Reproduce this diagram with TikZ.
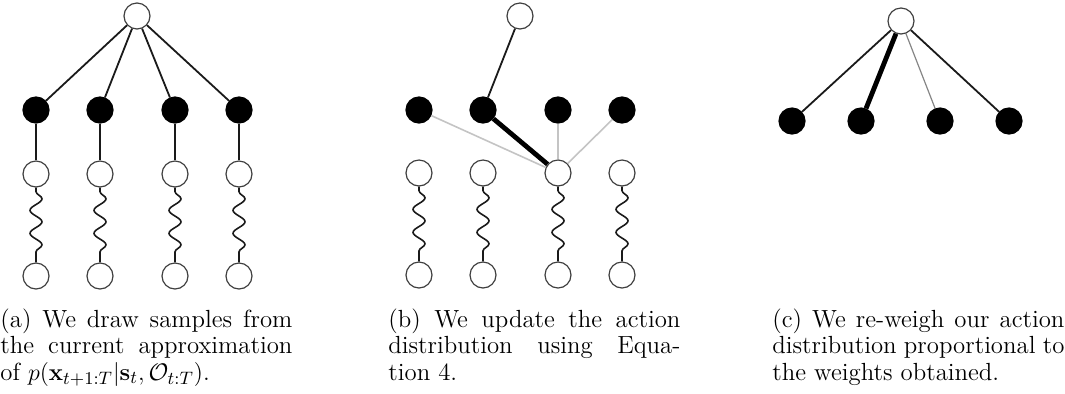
\documentclass[tikz,border=0pt]{standalone}
\usepackage{tikz}
\usepackage{xcolor}
\usetikzlibrary{decorations.pathmorphing}
\definecolor{vdarkgray}{HTML}{1a1a1a}
\definecolor{vlinegray}{HTML}{404040}
\definecolor{vlightgray}{HTML}{c4c4c4}
\definecolor{vmidgray}{HTML}{858585}

\tikzset{
	state/.style={circle, draw=vlinegray, line width=.6pt, fill=white, minimum size=13pt, inner sep=0pt},
	action/.style={state, fill=black, draw=black},
	link/.style={draw=vdarkgray, line width=.9pt},
	weak/.style={draw=vlightgray, line width=.8pt},
	faint/.style={draw=vmidgray, line width=.6pt},
	strong/.style={draw=black, line width=2.4pt},
	rollout/.style={draw=vdarkgray, line width=.8pt, decorate, decoration={snake, segment length=11.5pt, amplitude=3pt, pre length=2pt, post length=2pt}},
	caption/.style={anchor=north west, text width=146pt, align=justify, inner sep=0pt, font=\fontsize{12.4}{13.3}\selectfont}
}

\begin{document}
\begin{tikzpicture}[x=.5pt, y=-.5pt]
		\useasboundingbox (0,0) rectangle (1065,393);
		% (a) sampling
		\node[state] (aroot) at (137,16) {};
		\foreach \i/\x in {1/36,2/100,3/175,4/239} {
			\node[action] (aact\i) at (\x,110) {};
			\node[state] (amid\i) at (\x,174) {};
			\node[state] (aend\i) at (\x,276) {};
			\draw[link] (aroot) -- (aact\i);
			\draw[link] (aact\i) -- (amid\i);
			\draw[rollout] (amid\i) -- (aend\i);
		}
		% (b) update
		\node[state] (broot) at (520,16) {};
		\foreach \i/\x in {1/419,2/483,3/558,4/622} {
			\node[action] (bact\i) at (\x,110) {};
			\node[state] (bmid\i) at (\x,173) {};
			\node[state] (bend\i) at (\x,275) {};
			\draw[rollout] (bmid\i) -- (bend\i);
		}
		\draw[link] (broot) -- (bact2);
		\draw[weak] (bact1) -- (bmid3);
		\draw[weak] (bact3) -- (bmid3);
		\draw[weak] (bact4) -- (bmid3);
		\draw[strong] (bact2) -- (bmid3);
		% (c) re-weigh
		\node[state] (croot) at (901,21) {};
		\foreach \i/\x in {1/792,2/861,3/940,4/1009} {
			\node[action] (cact\i) at (\x,121) {};
		}
		\draw[link] (croot) -- (cact1);
		\draw[strong] (croot) -- (cact2);
		\draw[faint] (croot) -- (cact3);
		\draw[link] (croot) -- (cact4);
		% captions
		\node[caption] (capa) at (0,308) {(a) We draw samples from\linebreak the current approximation\linebreak of $p(\mathbf{x}_{t+1:T}|\mathbf{s}_t,\mathcal{O}_{t:T})$.};
		\node[caption] (capb) at (388,308) {(b) We update the action\linebreak distribution using Equa-\linebreak tion 4.};
		\node[caption] (capc) at (772,308) {(c) We re-weigh our action\linebreak distribution proportional to\linebreak the weights obtained.};
	\end{tikzpicture}
\end{document}
